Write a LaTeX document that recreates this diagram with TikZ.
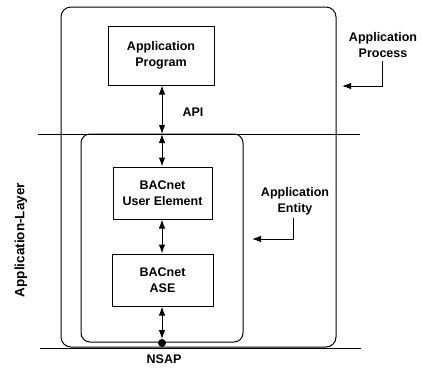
\documentclass[tikz,border=0pt]{standalone}
\usepackage{fontspec}
\setmainfont{Liberation Sans}
\usetikzlibrary{arrows.meta}
\tikzset{
  frame/.style={draw=black, line width=1pt, rounded corners=10pt},
  layerline/.style={draw=black, line width=1pt},
  block/.style={draw=black, line width=1pt, align=center, inner sep=0pt,
                font=\bfseries\fontsize{12.5}{16}\selectfont},
  lbl/.style={align=center, inner sep=0pt, font=\bfseries\fontsize{12.5}{16}\selectfont},
  link/.style={draw=black, line width=1pt, {Latex[length=9pt,width=6.5pt]}-{Latex[length=9pt,width=6.5pt]}},
  pointer/.style={draw=black, line width=1pt, -{Latex[length=9pt,width=6.5pt]}}
}
\begin{document}
\begin{tikzpicture}[x=1pt, y=-1pt]
  \useasboundingbox (0,0) rectangle (422,368);

  % layer boundaries
  \coordinate (topL) at (38,134);
  \coordinate (topR) at (360,134);
  \coordinate (botL) at (40,348);
  \coordinate (botR) at (361,348);
  \draw[layerline] (topL) -- (topR);
  \draw[layerline] (botL) -- (botR);

  % application process and application entity
  \draw[frame] (61,7) rectangle (336,347);
  \draw[frame, rounded corners=9pt] (81,134) rectangle (243,342);

  % blocks
  \node[block, minimum width=106pt, minimum height=59pt] (prog) at (161,55.5) {Application\\Program};
  \node[block, minimum width=99pt, minimum height=52pt] (ue) at (162.5,193) {BACnet\\User Element};
  \node[block, minimum width=101pt, minimum height=52pt] (ase) at (162.5,280) {BACnet\\ASE};

  % service access points
  \coordinate (api) at (162,134);
  \coordinate (nsapTip) at (162,339);
  \node[circle, fill=black, inner sep=0pt, minimum size=8pt] (nsap) at (162,343) {};

  \draw[link] (prog.south -| api) -- (api);
  \draw[link] (api) -- (ue.north -| api);
  \draw[link] (ue.south -| api) -- (ase.north -| api);
  \draw[link] (ase.south -| api) -- (nsapTip);

  % labels
  \node[lbl] (apiLbl) at (193,112) {API};
  \node[lbl] (nsapLbl) at (164,359) {NSAP};
  \node[lbl, rotate=90, font=\bfseries\fontsize{13.5}{16}\selectfont] (layerLbl) at (21,240) {Application-Layer};
  \node[lbl] (procLbl) at (383,45.5) {Application\\Process};
  \node[lbl] (entLbl) at (295,201) {Application\\Entity};

  \coordinate (procTip) at (342,86);
  \coordinate (entTip) at (252,239);
  \draw[pointer] ([xshift=-1pt, yshift=-3pt]procLbl.south) |- (procTip);
  \draw[pointer] ([xshift=-2pt, yshift=-3pt]entLbl.south) |- (entTip);
\end{tikzpicture}
\end{document}
